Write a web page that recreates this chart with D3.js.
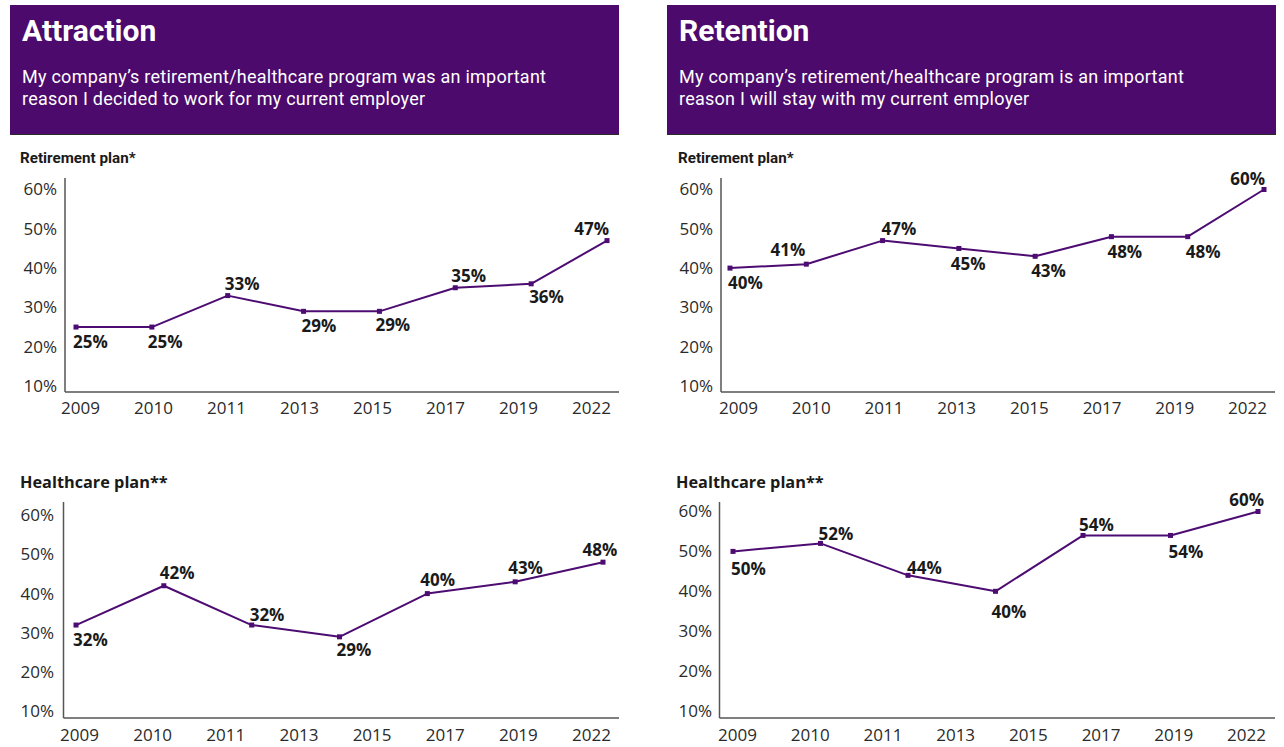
<!DOCTYPE html>
<html>
<head>
<meta charset="utf-8">
<script src="https://cdn.jsdelivr.net/npm/d3@7/dist/d3.min.js"></script>
<style>
  html, body { margin: 0; padding: 0; background: #fff; }
  svg { display: block; }
</style>
</head>
<body>
<svg id="chart" width="1284" height="747"></svg>
<script>
// Survey waves shown on the x axis
const years = ["2009", "2010", "2011", "2013", "2015", "2017", "2019", "2022"];
// Percent axis ticks
const yTicks = [10, 20, 30, 40, 50, 60];

// Attraction: "was an important reason I decided to work for my current employer"
const attractionRetirement = [25, 25, 33, 29, 29, 35, 36, 47];
const attractionHealthcare = [32, 42, 32, 29, 40, 43, 48];
// Retention: "is an important reason I will stay with my current employer"
const retentionRetirement = [40, 41, 47, 45, 43, 48, 48, 60];
const retentionHealthcare = [50, 52, 44, 40, 54, 54, 60];

const panelTitles = ["Attraction", "Retention"];
const panelSubtitles = [
  ["My company\u2019s retirement/healthcare program was an important", "reason I decided to work for my current employer"],
  ["My company\u2019s retirement/healthcare program is an important", "reason I will stay with my current employer"]
];
const chartTitles = ["Retirement plan*", "Healthcare plan**"];

// Label placement per point: [side, anchor, dx, dy] (side: "a" above, "b" below; anchor s/m/e)
const aRetLabels = [["b","s",-3,0],["b","s",-4,0],["a","s",-3,0],["b","s",-2,0],["b","s",-4,-1],["a","s",-4,0],["b","s",-2,-2],["a","e",2,0]];
const rRetLabels = [["b","s",-2,0],["a","e",-1,-2],["a","s",-1,0],["b","s",-8,0],["b","s",-4,0],["b","s",-4,0],["b","s",-2,0],["a","e",1,1]];
const aHcLabels  = [["b","s",-3,0],["a","s",-4,-1],["a","s",-2,2],["b","s",-3,-2],["a","s",-7,-2],["a","s",-7,-2],["a","m",-3,0]];
const rHcLabels  = [["b","s",-2,2],["a","s",-2,2],["a","s",-1,5],["b","s",-4,6],["a","s",-4,1],["b","s",-2,1],["a","e",6,0]];

const PURPLE = "#4b0a6c";
const LINE = "#4d0c72";
const AXIS = "#555";
const TEXT = "#1a1a1a";
const HEAD_FONT = "Roboto, 'Liberation Sans', sans-serif";
const NUM_FONT = "'Open Sans', Roboto, sans-serif";

const svg = d3.select("#chart");

// Header boxes
const panels = [
  { x: 10, w: 609, title: panelTitles[0], sub: panelSubtitles[0] },
  { x: 667, w: 609, title: panelTitles[1], sub: panelSubtitles[1] }
];
panels.forEach(p => {
  const g = svg.append("g");
  g.append("rect").attr("x", p.x).attr("y", 5).attr("width", p.w).attr("height", 129).attr("fill", PURPLE);
  g.append("line").attr("x1", p.x).attr("x2", p.x + p.w).attr("y1", 134.5).attr("y2", 134.5)
    .attr("stroke", "#2b2b2b").attr("stroke-width", 1.2);
  g.append("text").attr("x", p.x + 12).attr("y", 41).text(p.title)
    .attr("fill", "#fff").attr("font-family", HEAD_FONT).attr("font-weight", 700).attr("font-size", 30);
  p.sub.forEach((s, i) => {
    g.append("text").attr("x", p.x + 12).attr("y", 83 + i * 21.5).text(s)
      .attr("fill", "#fff").attr("font-family", HEAD_FONT).attr("font-weight", 400)
      .attr("font-size", 18).attr("letter-spacing", 0.25);
  });
});

const charts = [
  { title: chartTitles[0], tfont: HEAD_FONT, tsize: 15.2, tx: 20, ty: 163, values: attractionRetirement, labels: aRetLabels,
    ax: 65, top: 178, bottom: 392, right: 619, yr: [386, 189.5], px: [76, 607], lx: [80, 591], ly: 408, tickRight: 57 },
  { title: chartTitles[0], tfont: HEAD_FONT, tsize: 15.2, tx: 678, ty: 163, values: retentionRetirement, labels: rRetLabels,
    ax: 721, top: 178, bottom: 392, right: 1275, yr: [386, 189.5], px: [730, 1264], lx: [738, 1247], ly: 408, tickRight: 713 },
  { title: chartTitles[1], tfont: NUM_FONT, tsize: 16.3, tx: 20, ty: 488, values: attractionHealthcare, labels: aHcLabels,
    ax: 63.5, top: 502, bottom: 718, right: 619, yr: [711.5, 515], px: [76, 603], lx: [79, 591], ly: 735, tickRight: 54 },
  { title: chartTitles[1], tfont: NUM_FONT, tsize: 16.3, tx: 676, ty: 488, values: retentionHealthcare, labels: rHcLabels,
    ax: 719.5, top: 502, bottom: 718, right: 1275, yr: [711, 511.5], px: [733, 1258], lx: [737, 1246], ly: 735, tickRight: 712 }
];

charts.forEach(c => {
  const g = svg.append("g");

  g.append("text").attr("x", c.tx).attr("y", c.ty).text(c.title)
    .attr("fill", TEXT).attr("font-family", c.tfont).attr("font-weight", 700).attr("font-size", c.tsize);

  const y = d3.scaleLinear().domain([10, 60]).range(c.yr);
  const xPts = d3.scalePoint().domain(d3.range(c.values.length)).range(c.px);
  const xLab = d3.scalePoint().domain(years).range(c.lx);

  // Axis lines
  g.append("line").attr("x1", c.ax).attr("x2", c.ax).attr("y1", c.top).attr("y2", c.bottom)
    .attr("stroke", AXIS).attr("stroke-width", 1.5);
  g.append("line").attr("x1", c.ax).attr("x2", c.right).attr("y1", c.bottom).attr("y2", c.bottom)
    .attr("stroke", AXIS).attr("stroke-width", 1.5);

  // Y tick labels
  const yAxis = d3.axisLeft(y).tickValues(yTicks).tickSize(0).tickPadding(0).tickFormat(d => d + "%");
  const gy = g.append("g").attr("transform", `translate(${c.tickRight},0)`).call(yAxis);
  gy.select(".domain").remove();
  gy.selectAll("text").attr("font-family", NUM_FONT).attr("font-size", 17).attr("fill", "#2a2a2a");

  // X tick labels
  const xAxis = d3.axisBottom(xLab).tickSize(0).tickPadding(0);
  const gx = g.append("g").attr("transform", `translate(0,${c.ly - 6.5})`).call(xAxis);
  gx.select(".domain").remove();
  gx.selectAll("text").attr("font-family", NUM_FONT).attr("font-size", 17).attr("fill", "#2a2a2a").attr("dy", "0.71em");

  // Series line
  const line = d3.line().x((d, i) => xPts(i)).y(d => y(d));
  g.append("path").datum(c.values).attr("d", line)
    .attr("fill", "none").attr("stroke", LINE).attr("stroke-width", 2).attr("stroke-linejoin", "round");

  // Square markers
  g.selectAll("rect.m").data(c.values).join("rect").attr("class", "m")
    .attr("x", (d, i) => xPts(i) - 2.5).attr("y", d => y(d) - 2.5)
    .attr("width", 5).attr("height", 5).attr("fill", LINE);

  // Value labels
  const anchors = { s: "start", m: "middle", e: "end" };
  g.selectAll("text.v").data(c.values).join("text").attr("class", "v")
    .attr("x", (d, i) => xPts(i) + c.labels[i][2])
    .attr("y", (d, i) => y(d) + (c.labels[i][0] === "a" ? -12 : 15) + c.labels[i][3])
    .attr("dy", "0.36em")
    .attr("text-anchor", (d, i) => anchors[c.labels[i][1]])
    .attr("font-family", NUM_FONT).attr("font-weight", 700).attr("font-size", 17).attr("fill", TEXT)
    .text(d => d + "%");
});
</script>
</body>
</html>
